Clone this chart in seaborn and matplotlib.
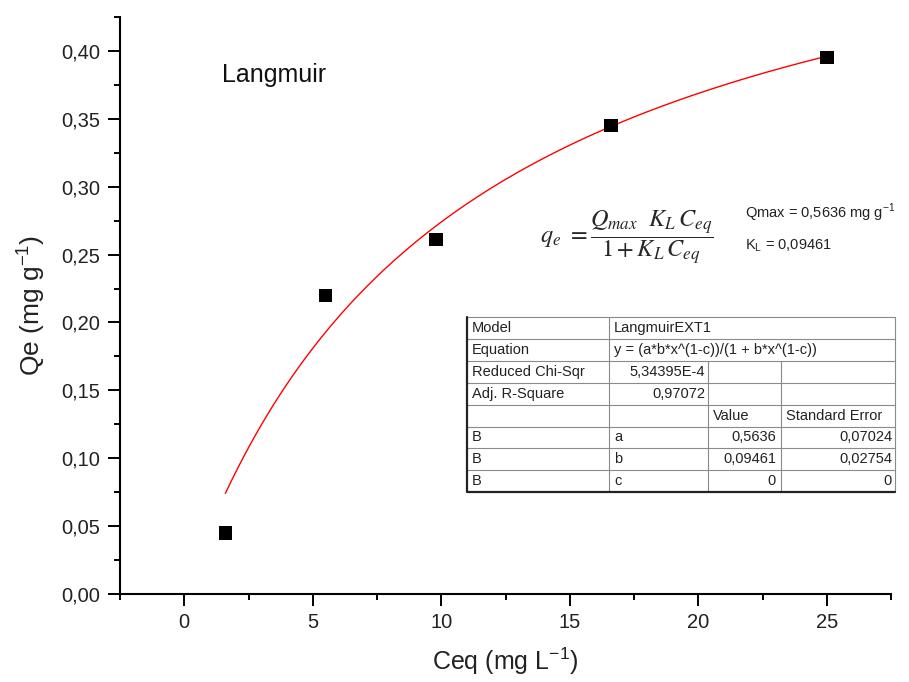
import numpy as np
import pandas as pd
import matplotlib
matplotlib.use('agg')
import matplotlib.pyplot as plt
import seaborn as sns
from matplotlib.ticker import MultipleLocator, FuncFormatter

# measured points
ceq = [1.6, 5.5, 9.8, 16.6, 25.0]
qe = [0.045, 0.220, 0.261, 0.345, 0.395]

# fit parameters as printed on the chart
fit_a = 0.5636
fit_b = 0.09461
fit_c = 0

table_rows = [
    ["Model", "LangmuirEXT1", "", ""],
    ["Equation", "y = (a*b*x^(1-c))/(1 + b*x^(1-c))", "", ""],
    ["Reduced Chi-Sqr", "5,34395E-4", "", ""],
    ["Adj. R-Square", "0,97072", "", ""],
    ["", "", "Value", "Standard Error"],
    ["B", "a", "0,5636", "0,07024"],
    ["B", "b", "0,09461", "0,02754"],
    ["B", "c", "0", "0"],
]

sns.set_style("white")
plt.rcParams['font.family'] = ['Liberation Sans', 'DejaVu Sans']

fig = plt.figure(figsize=(9.09, 6.82), dpi=100)
ax = fig.add_axes([120/909, 1-594/682, (891-120)/909, (594-17)/682])

df = pd.DataFrame({"Ceq": ceq, "Qe": qe})
xfit = np.linspace(min(ceq), max(ceq), 200)
yfit = fit_a*fit_b*xfit**(1-fit_c)/(1+fit_b*xfit**(1-fit_c))
sns.lineplot(x=xfit, y=yfit, color="red", lw=1.0, ax=ax)
sns.scatterplot(data=df, x="Ceq", y="Qe", marker="s", s=95, color="black",
                edgecolor="none", ax=ax, zorder=3)

ax.set_xlim(-2.5, 27.5)
ax.set_ylim(0, 0.425)
ax.xaxis.set_major_locator(MultipleLocator(5))
ax.xaxis.set_minor_locator(MultipleLocator(2.5))
ax.yaxis.set_major_locator(MultipleLocator(0.05))
ax.yaxis.set_minor_locator(MultipleLocator(0.025))
ax.yaxis.set_major_formatter(FuncFormatter(lambda v, p: ("%.2f" % v).replace(".", ",")))
ax.xaxis.set_major_formatter(FuncFormatter(lambda v, p: "%d" % round(v)))
for s in ["top", "right"]:
    ax.spines[s].set_visible(False)
for s in ["left", "bottom"]:
    ax.spines[s].set_color("black")
    ax.spines[s].set_linewidth(1.5)
ax.tick_params(which="major", direction="out", length=8.5, width=1.4, color="black",
               labelsize=14.5, labelcolor="#222222", left=True, bottom=True)
ax.tick_params(axis="y", which="major", pad=6)
ax.tick_params(axis="x", which="major", pad=5)
ax.tick_params(which="minor", direction="out", length=4.5, width=1.4, color="black",
               left=True, bottom=True)
ax.set_xlabel(r"Ceq (mg L$^{\mathregular{-1}}$)", fontsize=18, color="#222222", labelpad=10)
ax.set_ylabel(r"Qe (mg g$^{\mathregular{-1}}$)", fontsize=19, color="#222222", labelpad=10)

# overlay in pixel coordinates for annotations and the fit table
ov = fig.add_axes([0, 0, 1, 1], facecolor="none")
ov.set_xlim(0, 909)
ov.set_ylim(682, 0)
ov.axis("off")

ov.text(222, 75, "Langmuir", fontsize=18, va="center", ha="left", color="#111111")
ov.text(540, 238, r"$q_e\ =\dfrac{Q_{max}\ \ K_L\,C_{eq}}{1+K_L\,C_{eq}}$",
        fontsize=17.5, ha="left", va="center", math_fontfamily="stix")
ov.text(745, 213, r"Qmax = 0,5636 mg g$^{\mathregular{-1}}$", fontsize=10.5, va="center", color="#222222")
ov.text(745, 246, r"K$_{\mathregular{L}}$ = 0,09461", fontsize=10.5, va="center", color="#222222")

# table
x0, x1, x2, x3, x4 = 467, 609, 708, 781, 895
ytop, rh = 317, 21.9
nrows = len(table_rows)
ybot = ytop + nrows*rh
gray = "#8a8a8a"
for i in range(1, nrows):
    ov.plot([x0, x4], [ytop+i*rh]*2, color=gray, lw=0.8)
ov.plot([x1, x1], [ytop, ybot], color=gray, lw=0.8)
ov.plot([x2, x2], [ytop+2*rh, ybot], color=gray, lw=0.8)
ov.plot([x3, x3], [ytop+2*rh, ybot], color=gray, lw=0.8)
ov.plot([x0, x4, x4], [ytop, ytop, ybot], color=gray, lw=0.8)
ov.plot([x0, x0, x4], [ytop, ybot, ybot], color="#222222", lw=1.6)

tfs = 10.5
for i, row in enumerate(table_rows):
    yc = ytop + (i+0.5)*rh
    ov.text(x0+5, yc, row[0], fontsize=tfs, va="center", ha="left", color="#222222")
    if i in (2, 3):
        ov.text(x2-3, yc, row[1], fontsize=tfs, va="center", ha="right", color="#222222")
    else:
        ov.text(x1+5, yc, row[1], fontsize=tfs, va="center", ha="left", color="#222222")
    if i == 4:
        ov.text(x2+5, yc, row[2], fontsize=tfs, va="center", ha="left", color="#222222")
        ov.text(x3+5, yc, row[3], fontsize=tfs, va="center", ha="left", color="#222222")
    else:
        ov.text(x3-5, yc, row[2], fontsize=tfs, va="center", ha="right", color="#222222")
        ov.text(x4-3, yc, row[3], fontsize=tfs, va="center", ha="right", color="#222222")

fig.savefig("out.png", dpi=100)
